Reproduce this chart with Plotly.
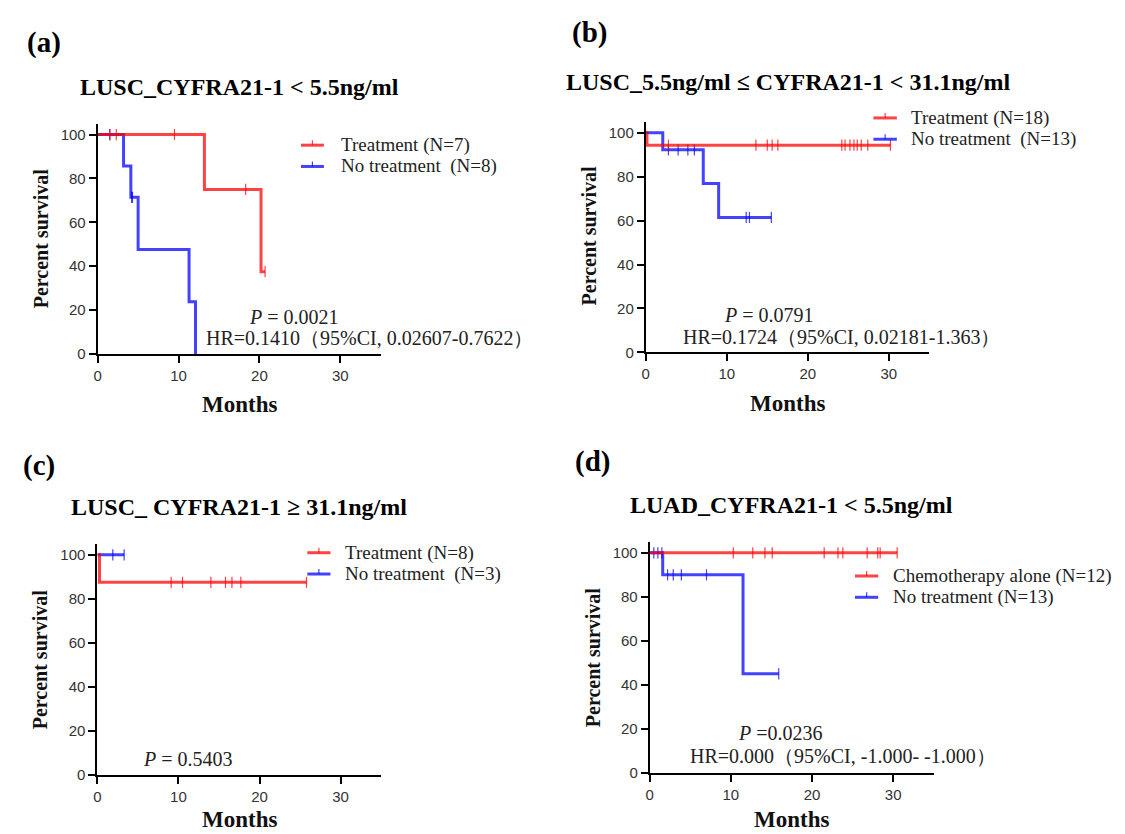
import plotly.graph_objects as go

W, H = 1125, 834

# ---------------- data ----------------
# Panel (a)  LUSC_CYFRA21-1 < 5.5ng/ml
a_trt_t = [0, 13.2, 20.2, 20.7]
a_trt_s = [100, 75, 37.5, 37.5]
a_trt_ct = [1.5, 2.3, 9.5, 18.3, 20.7]
a_trt_cs = [100, 100, 100, 75, 37.5]
a_no_t = [0, 3.2, 4.1, 5.0, 11.3, 12.1]
a_no_s = [100, 85.7, 71.4, 47.6, 23.8, 0]
a_no_ct = [1.5, 4.2, 4.3]
a_no_cs = [100, 71.4, 71.4]

# Panel (b)  LUSC_5.5 <= CYFRA21-1 < 31.1
b_trt_t = [0, 0.15, 30.2]
b_trt_s = [100, 94.4, 94.4]
b_trt_ct = [2.8, 13.6, 15.0, 15.6, 16.3, 24.2, 24.6, 25.2, 25.7, 26.1, 26.6, 27.4, 30.2]
b_trt_cs = [94.4] * 13
b_no_t = [0, 2.1, 7.1, 9.0, 15.5]
b_no_s = [100, 92.3, 76.9, 61.5, 61.5]
b_no_ct = [2.8, 4.0, 5.2, 6.0, 12.4, 12.8, 15.5]
b_no_cs = [92.3, 92.3, 92.3, 92.3, 61.5, 61.5, 61.5]

# Panel (c)  LUSC_CYFRA21-1 >= 31.1
c_trt_t = [0, 0.26, 25.8]
c_trt_s = [100, 87.5, 87.5]
c_trt_ct = [9.1, 10.5, 14.0, 15.8, 16.6, 17.7, 25.8]
c_trt_cs = [87.5] * 7
c_no_t = [0, 3.3]
c_no_s = [100, 100]
c_no_ct = [1.9, 3.3]
c_no_cs = [100, 100]

# Panel (d)  LUAD_CYFRA21-1 < 5.5
d_trt_t = [0, 30.5]
d_trt_s = [100, 100]
d_trt_ct = [10.3, 12.7, 14.2, 15.1, 21.5, 23.2, 23.8, 26.8, 28.1, 28.4, 30.5]
d_trt_cs = [100] * 11
d_no_t = [0, 1.6, 11.5, 15.9]
d_no_s = [100, 90, 45, 45]
d_no_ct = [0.5, 1.0, 1.5, 2.2, 2.9, 3.9, 7.0, 15.9]
d_no_cs = [100, 100, 100, 90, 90, 90, 90, 45]

x_ticks = [0, 10, 20, 30]
y_ticks = [0, 20, 40, 60, 80, 100]

panel_labels = ["(a)", "(b)", "(c)", "(d)"]
titles = [
    "LUSC_CYFRA21-1 < 5.5ng/ml",
    "LUSC_5.5ng/ml ≤ CYFRA21-1 < 31.1ng/ml",
    "LUSC_ CYFRA21-1 ≥ 31.1ng/ml",
    "LUAD_CYFRA21-1 < 5.5ng/ml",
]
legend_trt = ["Treatment (N=7)", "Treatment (N=18)", "Treatment (N=8)", "Chemotherapy alone (N=12)"]
legend_no = ["No treatment \u00a0(N=8)", "No treatment \u00a0(N=13)", "No treatment \u00a0(N=3)", "No treatment (N=13)"]
p_texts = ["<i>P</i> = 0.0021", "<i>P</i> = 0.0791", "<i>P</i> = 0.5403", "<i>P</i> =0.0236"]
hr_texts = [
    "HR=0.1410（95%CI, 0.02607-0.7622）",
    "HR=0.1724（95%CI, 0.02181-1.363）",
    None,
    "HR=0.000（95%CI, -1.000- -1.000）",
]

panels = [
    (a_trt_t, a_trt_s, a_trt_ct, a_trt_cs, a_no_t, a_no_s, a_no_ct, a_no_cs),
    (b_trt_t, b_trt_s, b_trt_ct, b_trt_cs, b_no_t, b_no_s, b_no_ct, b_no_cs),
    (c_trt_t, c_trt_s, c_trt_ct, c_trt_cs, c_no_t, c_no_s, c_no_ct, c_no_cs),
    (d_trt_t, d_trt_s, d_trt_ct, d_trt_cs, d_no_t, d_no_s, d_no_ct, d_no_cs),
]

# ---------------- layout geometry (pixels) ----------------
# plot areas: (left, right, top, bottom)
boxes = [
    (86, 370, 116.7, 349.3),
    (636, 920.6, 115, 347.7),
    (85.7, 370.4, 541, 774.3),
    (640, 925, 539, 772.3),
]
label_pos = [(32, 35), (580, 25), (27, 462), (583, 458)]
title_pos = [(228, 80), (779, 75), (228, 504), (782, 502)]
ytitle_pos = [(28.6, 233), (578.7, 230), (27.7, 658), (582.5, 656)]
xtitle_pos = [(228, 400, "middle"), (778, 399, "middle"), (228, 834, "bottom"), (782, 834, "bottom")]
# legend: sample line x0, x1, text x, row y (trt), row y (no)
leg_pos = [
    (290, 313, 328, 138.5, 160),
    (864.5, 888, 900.5, 111, 132.5),
    (296.4, 319.6, 332, 550, 571.5),
    (846, 869.3, 881.7, 573.5, 595),
]
p_pos = [(235.7, 311.7), (713, 310), (129.3, 758.3), (726.8, 731.7)]
hr_pos = [(192.9, 333.3), (671.7, 332), None, (678.2, 755)]

RED = "rgba(255,0,0,0.74)"
BLUE = "rgba(0,0,255,0.74)"
SERIF = "Liberation Serif"
SANS = "Liberation Sans"


def px(x):
    return x / W


def py(y):
    return 1 - y / H


fig = go.Figure()
annotations = []
shapes = []

for i, (tt, ts, tct, tcs, nt, ns, nct, ncs) in enumerate(panels):
    k = "" if i == 0 else str(i + 1)
    xa, ya = "x" + k, "y" + k
    # No treatment (blue) first, treatment (red) on top
    fig.add_trace(go.Scatter(x=nt, y=ns, mode="lines", line=dict(color=BLUE, width=3, shape="hv"),
                             xaxis=xa, yaxis=ya, showlegend=False, hoverinfo="skip"))
    fig.add_trace(go.Scatter(x=nct, y=ncs, mode="markers",
                             marker=dict(symbol="line-ns", size=8, line=dict(color=BLUE, width=1.2)),
                             xaxis=xa, yaxis=ya, showlegend=False, cliponaxis=False, hoverinfo="skip"))
    fig.add_trace(go.Scatter(x=tt, y=ts, mode="lines", line=dict(color=RED, width=3, shape="hv"),
                             xaxis=xa, yaxis=ya, showlegend=False, hoverinfo="skip"))
    fig.add_trace(go.Scatter(x=tct, y=tcs, mode="markers",
                             marker=dict(symbol="line-ns", size=8, line=dict(color=RED, width=1.2)),
                             xaxis=xa, yaxis=ya, showlegend=False, cliponaxis=False, hoverinfo="skip"))

    l, r, t, b = boxes[i]
    axis_common = dict(showline=True, linecolor="black", linewidth=2, ticks="outside", ticklen=7,
                       tickwidth=2, tickcolor="black", showgrid=False, zeroline=False,
                       tickfont=dict(family=SANS, size=15, color="#333"))
    fig.update_layout(**{
        "xaxis" + k: dict(domain=[px(l), px(r)], range=[0, 35], tickvals=x_ticks, anchor=ya, **axis_common),
        "yaxis" + k: dict(domain=[py(b), py(t)], range=[0, 105], tickvals=y_ticks, anchor=xa, **axis_common),
    })

    # panel label & title
    annotations.append(dict(x=px(label_pos[i][0]), y=py(label_pos[i][1]), text="<b>%s</b>" % panel_labels[i],
                            font=dict(family=SERIF, size=29, color="black")))
    annotations.append(dict(x=px(title_pos[i][0]), y=py(title_pos[i][1]), text="<b>%s</b>" % titles[i],
                            font=dict(family=SERIF, size=24, color="black")))
    # axis titles
    annotations.append(dict(x=px(ytitle_pos[i][0]), y=py(ytitle_pos[i][1]), text="<b>Percent survival</b>",
                            textangle=-90, font=dict(family=SERIF, size=20, color="#111")))
    annotations.append(dict(x=px(xtitle_pos[i][0]), y=py(xtitle_pos[i][1]), text="<b>Months</b>",
                            yanchor=xtitle_pos[i][2], font=dict(family=SERIF, size=23, color="#111")))
    # legend
    x0, x1, xt, yr, yb = leg_pos[i]
    for col, yy, txt in ((RED, yr, legend_trt[i]), (BLUE, yb, legend_no[i])):
        shapes.append(dict(type="line", xref="paper", yref="paper", x0=px(x0), x1=px(x1), y0=py(yy), y1=py(yy),
                           line=dict(color=col, width=3)))
        xm = (x0 + x1) / 2
        shapes.append(dict(type="line", xref="paper", yref="paper", x0=px(xm), x1=px(xm), y0=py(yy), y1=py(yy - 5),
                           line=dict(color=col, width=1.2)))
        annotations.append(dict(x=px(xt), y=py(yy), text=txt, xanchor="left",
                                font=dict(family=SERIF, size=19, color="#222")))
    # statistics
    annotations.append(dict(x=px(p_pos[i][0]), y=py(p_pos[i][1]), text=p_texts[i], xanchor="left",
                            font=dict(family=SERIF, size=20, color="#222")))
    if hr_texts[i]:
        annotations.append(dict(x=px(hr_pos[i][0]), y=py(hr_pos[i][1]), text=hr_texts[i], xanchor="left",
                                font=dict(family=SERIF, size=20, color="#222")))

for a in annotations:
    a.setdefault("xref", "paper")
    a.setdefault("yref", "paper")
    a.setdefault("showarrow", False)
    a.setdefault("xanchor", "center")
    a.setdefault("yanchor", "middle")

fig.update_layout(width=W, height=H, margin=dict(l=0, r=0, t=0, b=0),
                  paper_bgcolor="white", plot_bgcolor="white",
                  annotations=annotations, shapes=shapes, showlegend=False)

fig.write_html("out.html")
